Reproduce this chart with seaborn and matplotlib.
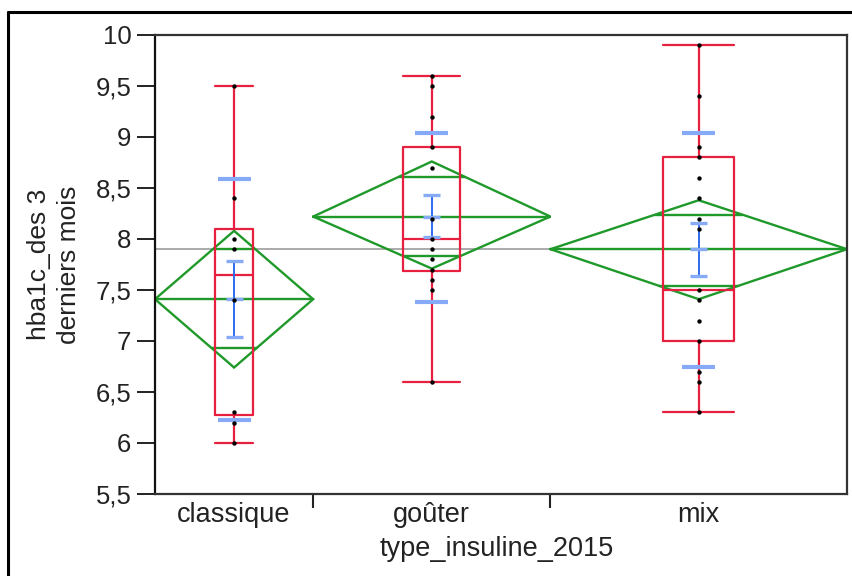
import numpy as np
import pandas as pd
import matplotlib
matplotlib.use("Agg")
import matplotlib.pyplot as plt
from matplotlib.lines import Line2D
from matplotlib.ticker import FixedLocator, NullFormatter
import seaborn as sns

# ---------------- data ----------------
categories = ["classique", "goûter", "mix"]
counts = [8, 12, 15]  # group sizes (JMP draws category widths proportional to n)

pts_classique = [9.5, 8.4, 8.0, 7.9, 7.4, 6.3, 6.2, 6.0]
pts_gouter = [9.6, 9.5, 9.2, 8.9, 8.7, 8.2, 8.0, 7.9, 7.8, 7.7, 7.6, 7.5, 6.6]
pts_mix = [9.9, 9.4, 8.9, 8.8, 8.6, 8.4, 8.2, 8.1, 7.5, 7.4, 7.2, 7.0, 6.7, 6.6, 6.3]

# box plot statistics
whisk_lo = [6.0, 6.6, 6.3]
q1 = [6.27, 7.69, 7.00]
median = [7.65, 8.00, 7.50]
q3 = [8.10, 8.90, 8.80]
whisk_hi = [9.5, 9.6, 9.9]

# means diamonds (95% CI) and overlap marks
means = [7.41, 8.22, 7.90]
ci_lo = [6.74, 7.71, 7.41]
ci_hi = [8.08, 8.76, 8.38]
ovl_lo = [6.93, 7.83, 7.54]
ovl_hi = [7.90, 8.61, 8.24]

# std error bars and std dev lines
se_lo = [7.04, 8.02, 7.64]
se_hi = [7.78, 8.43, 8.16]
sd_lo = [6.23, 7.38, 6.75]
sd_hi = [8.59, 9.04, 9.04]

grand_mean = 7.90

y_ticks = [5.5, 6, 6.5, 7, 7.5, 8, 8.5, 9, 9.5, 10]
y_tick_labels = ["5,5", "6", "6,5", "7", "7,5", "8", "8,5", "9", "9,5", "10"]

# ---------------- styling ----------------
sns.set_theme(style="white")
plt.rcParams["font.family"] = ["Liberation Sans", "DejaVu Sans"]

RED = "#E8203F"
GREEN = "#1F9A2A"
BLUE = "#2E6AEF"
LBLUE = "#86AAF6"
TXT = "#222222"

fig = plt.figure(figsize=(8.53, 5.76), dpi=100)
ax = fig.add_axes([155 / 853, 1 - 494 / 576, (847 - 155) / 853, (494 - 35) / 576])

edges = np.concatenate([[0], np.cumsum(counts)]).astype(float)
centers = (edges[:-1] + edges[1:]) / 2
widths = np.diff(edges)

# points as long table
rows = []
for cat, pts, c in zip(categories, [pts_classique, pts_gouter, pts_mix], centers):
    for v in pts:
        rows.append({"type_insuline_2015": cat, "x": c, "hba1c": v})
df = pd.DataFrame(rows)

# grand mean line
ax.axhline(grand_mean, color="#9c9c9c", lw=1.2, zorder=1)

box_frac = 0.24
sd_w = 1.67
se_w = 0.86
for i in range(len(categories)):
    c, w = centers[i], widths[i]
    L, R = edges[i], edges[i + 1]
    m = means[i]
    # diamond
    ax.plot([L, c, R, c, L], [m, ci_hi[i], m, ci_lo[i], m], color=GREEN, lw=1.7, zorder=2,
            solid_joinstyle="miter")
    ax.plot([L, R], [m, m], color=GREEN, lw=1.7, zorder=2)
    for ov, ext in [(ovl_hi[i], ci_hi[i]), (ovl_lo[i], ci_lo[i])]:
        frac = 1 - abs(ov - m) / abs(ext - m)
        hw = frac * w / 2
        ax.plot([c - hw, c + hw], [ov, ov], color=GREEN, lw=1.7, zorder=2)
    # box plot
    bw = box_frac * w / 2
    ax.plot([c - bw, c + bw, c + bw, c - bw, c - bw], [q1[i], q1[i], q3[i], q3[i], q1[i]],
            color=RED, lw=1.6, zorder=3)
    ax.plot([c - bw, c + bw], [median[i]] * 2, color=RED, lw=1.6, zorder=3)
    ax.plot([c, c], [q3[i], whisk_hi[i]], color=RED, lw=1.6, zorder=3)
    ax.plot([c, c], [whisk_lo[i], q1[i]], color=RED, lw=1.6, zorder=3)
    ax.plot([c - bw, c + bw], [whisk_hi[i]] * 2, color=RED, lw=1.6, zorder=3)
    ax.plot([c - bw, c + bw], [whisk_lo[i]] * 2, color=RED, lw=1.6, zorder=3)
    # std dev lines
    ax.plot([c - sd_w / 2, c + sd_w / 2], [sd_hi[i]] * 2, color=LBLUE, lw=3, zorder=4,
            solid_capstyle="butt")
    ax.plot([c - sd_w / 2, c + sd_w / 2], [sd_lo[i]] * 2, color=LBLUE, lw=3, zorder=4,
            solid_capstyle="butt")
    # std error bar
    ax.plot([c, c], [se_lo[i], se_hi[i]], color=BLUE, lw=1.4, zorder=4)
    ax.plot([c - se_w / 2, c + se_w / 2], [se_hi[i]] * 2, color=LBLUE, lw=2.4, zorder=4,
            solid_capstyle="butt")
    ax.plot([c - se_w / 2, c + se_w / 2], [se_lo[i]] * 2, color=LBLUE, lw=2.4, zorder=4,
            solid_capstyle="butt")
    ax.plot([c - se_w / 2, c + se_w / 2], [m] * 2, color=LBLUE, lw=2.4, zorder=4,
            solid_capstyle="butt")

sns.scatterplot(data=df, x="x", y="hba1c", color="black", s=10, linewidth=0,
                ax=ax, zorder=5, legend=False)

ax.set_xlim(edges[0], edges[-1])
ax.set_ylim(5.5, 10)
ax.set_yticks(y_ticks)
ax.set_yticklabels(y_tick_labels)
ax.xaxis.set_major_locator(FixedLocator(list(edges[1:-1])))
ax.xaxis.set_major_formatter(NullFormatter())
ax.xaxis.set_minor_locator(FixedLocator(list(centers)))
ax.set_xticklabels(categories, minor=True)
ax.tick_params(axis="x", which="major", direction="out", length=10, width=1.5, color="#222222",
               bottom=True)
ax.tick_params(axis="x", which="minor", length=0, pad=6, labelsize=19.5, labelcolor=TXT,
               bottom=True)
ax.tick_params(axis="y", which="major", direction="out", length=13, width=1.4, color="#222222",
               pad=4, labelsize=18.5, labelcolor=TXT, left=True)
ax.set_xlabel("")
ax.set_ylabel("")
for s in ax.spines.values():
    s.set_visible(True)
    s.set_color("#333333")
    s.set_linewidth(1.6)
ax.spines["left"].set_color("#111111")

fig.text(54 / 853, 1 - 264.5 / 576, "hba1c_des 3\nderniers mois", rotation=90,
         ha="center", va="center", fontsize=19, color=TXT, linespacing=1.35)
fig.text(497 / 853, 1 - 549 / 576, "type_insuline_2015", ha="center", va="center",
         fontsize=19.5, color=TXT)

# outer frame of the report
fig.add_artist(Line2D([8 / 853, 8 / 853], [0, 1 - 12 / 576], color="black", lw=2.2,
                      transform=fig.transFigure))
fig.add_artist(Line2D([8 / 853, 1], [1 - 12 / 576, 1 - 12 / 576], color="black", lw=2.2,
                      transform=fig.transFigure))

fig.savefig("out.png", dpi=100)
